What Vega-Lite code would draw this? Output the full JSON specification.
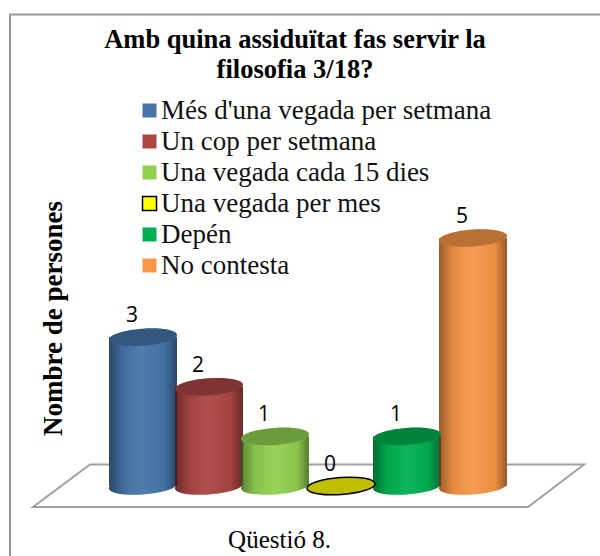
{"$schema":"https://vega.github.io/schema/vega-lite/v6.json","width":600,"height":556,"padding":0,"autosize":"none","background":"white",
"config":{"view":{"stroke":null},"font":"Liberation Serif"},
"title":{"text":["Amb quina assiduïtat fas servir la","filosofia 3/18?"],"font":"Liberation Serif","fontSize":26.5,"fontWeight":"bold","color":"black","anchor":"middle","dx":-5,"dy":87,"lineHeight":30},
"data":{"values":[
{"resposta":"Més d'una vegada per setmana","persones":3},
{"resposta":"Un cop per setmana","persones":2},
{"resposta":"Una vegada cada 15 dies","persones":1},
{"resposta":"Una vegada per mes","persones":0},
{"resposta":"Depén","persones":1},
{"resposta":"No contesta","persones":5}]},
"encoding":{
"x":{"field":"resposta","type":"nominal","sort":null,"scale":{"domain":["Més d'una vegada per setmana","Un cop per setmana","Una vegada cada 15 dies","Una vegada per mes","Depén","No contesta"],"range":[110,506],"paddingInner":0,"paddingOuter":0},"axis":{"domain":false,"ticks":false,"labels":false,"grid":false,"title":"Qüestió 8.","titleFont":"Liberation Serif","titleFontSize":25,"titleFontWeight":"normal","titleColor":"black","titleX":279,"titleY":-29}},
"y":{"field":"persones","type":"quantitative","scale":{"domain":[0,5],"range":[486,238],"nice":false},"axis":{"domain":false,"ticks":false,"labels":false,"grid":false,"title":"Nombre de persones","titleFont":"Liberation Serif","titleFontSize":27,"titleFontWeight":"bold","titleColor":"black","titleX":67,"titleY":318}},
"fill":{"field":"resposta","type":"nominal","sort":null,"scale":{"domain":["Més d'una vegada per setmana","Un cop per setmana","Una vegada cada 15 dies","Una vegada per mes","Depén","No contesta"],"range":["#4674a8","#aa4644","#92d050","#ffff00","#00b050","#f79646"]},"legend":{"title":null,"orient":"none","legendX":136,"legendY":97,"symbolType":"square","symbolSize":196,"symbolStrokeWidth":0,"labelFont":"Liberation Serif","labelFontSize":27,"labelColor":"#111111","labelOffset":-2,"rowPadding":3,"labelLimit":400,"encode":{"symbols":{"update":{"stroke":{"signal":"datum.value==='Una vegada per mes'?'black':'transparent'"},"strokeWidth":{"value":1.5}}}}}}
},
"layer":[
{"transform":[{"filter":"datum.persones===0"}],"mark":{"type":"point","shape":"M-2.51,-0.215L2.43,-0.215L1.87,0.21L-3.08,0.21Z","size":40000,"filled":false,"fill":"transparent","stroke":"#a0a0a0","strokeWidth":2,"opacity":1},"encoding":{"fill":{"value":"transparent"}}},
{"transform":[{"filter":"datum.persones===0"}],"mark":{"type":"point","shape":"M-3.31,0.8L-3.31,-4.715L2.7,-4.715","size":40000,"filled":false,"stroke":"#999999","strokeWidth":2,"opacity":1},"encoding":{"fill":{"value":"transparent"}}},
{"transform":[{"filter":"datum.persones>0"}],"mark":{"type":"point","shape":"M-1,0.07C-1.01,-0.068,-0.569,-0.211,-0.017,-0.25C0.535,-0.289,0.99,-0.208,1,-0.07C1.01,0.068,0.569,0.211,0.017,0.25C-0.535,0.289,-0.99,0.208,-1,0.07Z","size":4624,"filled":true,"opacity":1},"encoding":{"y":{"datum":0}}},
{"transform":[{"filter":"datum.persones>0"}],"mark":{"type":"point","shape":"M-1,0.07C-1.01,-0.068,-0.569,-0.211,-0.017,-0.25C0.535,-0.289,0.99,-0.208,1,-0.07C1.01,0.068,0.569,0.211,0.017,0.25C-0.535,0.289,-0.99,0.208,-1,0.07Z","size":4624,"filled":true,"opacity":1},"encoding":{"y":{"datum":0},"fill":{"value":{"gradient":"linear","x1":0,"x2":1,"y1":0,"y2":0,"stops":[{"offset":0,"color":"rgba(0,0,0,0.38)"},{"offset":0.2,"color":"rgba(0,0,0,0.08)"},{"offset":0.5,"color":"rgba(255,255,255,0.06)"},{"offset":0.82,"color":"rgba(0,0,0,0.05)"},{"offset":1,"color":"rgba(0,0,0,0.4)"}]}}}},
{"mark":{"type":"bar","size":68},"encoding":{"y2":{"datum":0}}},
{"mark":{"type":"bar","size":68},"encoding":{"y2":{"datum":0},"fill":{"value":{"gradient":"linear","x1":0,"x2":1,"y1":0,"y2":0,"stops":[{"offset":0,"color":"rgba(0,0,0,0.38)"},{"offset":0.2,"color":"rgba(0,0,0,0.08)"},{"offset":0.5,"color":"rgba(255,255,255,0.06)"},{"offset":0.82,"color":"rgba(0,0,0,0.05)"},{"offset":1,"color":"rgba(0,0,0,0.4)"}]}}}},
{"mark":{"type":"point","shape":"M-1,0.07C-1.01,-0.068,-0.569,-0.211,-0.017,-0.25C0.535,-0.289,0.99,-0.208,1,-0.07C1.01,0.068,0.569,0.211,0.017,0.25C-0.535,0.289,-0.99,0.208,-1,0.07Z","size":4624,"filled":true,"opacity":1}},
{"mark":{"type":"point","shape":"M-1,0.07C-1.01,-0.068,-0.569,-0.211,-0.017,-0.25C0.535,-0.289,0.99,-0.208,1,-0.07C1.01,0.068,0.569,0.211,0.017,0.25C-0.535,0.289,-0.99,0.208,-1,0.07Z","size":4624,"filled":true,"opacity":1,"fillOpacity":0.25,"strokeWidth":1.5},"encoding":{"fill":{"value":"black"},"stroke":{"condition":{"test":"datum.persones===0","value":"black"},"value":"transparent"}}},
{"mark":{"type":"text","font":"Open Sans","fontSize":21,"color":"black","dx":-11,"dy":-15,"baseline":"alphabetic"},"encoding":{"fill":{"value":"black"},"text":{"field":"persones","type":"quantitative"}}}
]}
